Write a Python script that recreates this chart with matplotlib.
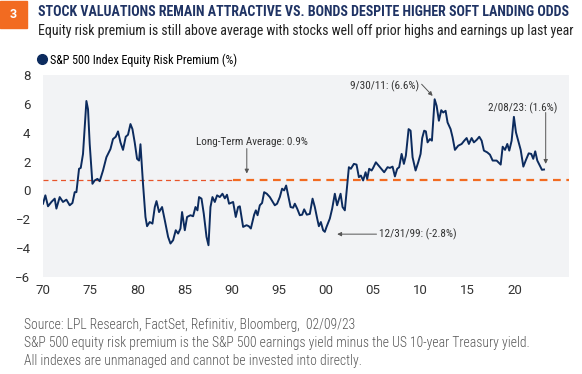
import matplotlib.pyplot as plt
from matplotlib.lines import Line2D
from matplotlib.patches import Rectangle

# S&P 500 equity risk premium (%)
years = [1970.00, 1970.25, 1970.53, 1970.89, 1971.24, 1971.42, 1971.77, 1972.12, 1972.48, 1972.83,
         1973.12, 1973.36, 1973.54, 1973.82, 1974.00, 1974.24, 1974.60, 1974.77, 1974.95, 1975.24,
         1975.48, 1975.77, 1976.01, 1976.36, 1976.72, 1977.15, 1977.42, 1977.71, 1977.95, 1978.21,
         1978.48, 1978.77, 1979.01, 1979.27, 1979.48, 1979.72, 1979.97, 1980.18, 1980.33, 1980.60,
         1980.86, 1981.03, 1981.31, 1981.60, 1981.85, 1982.03, 1982.30, 1982.62, 1982.91, 1983.26,
         1983.51, 1983.79, 1984.07, 1984.32, 1984.57, 1984.74, 1985.03, 1985.27, 1985.63, 1985.91,
         1986.16, 1986.37, 1986.54, 1986.80, 1987.04, 1987.33, 1987.54, 1987.75, 1987.96, 1988.21,
         1988.45, 1988.74, 1989.02, 1989.27, 1989.50, 1989.72, 1990.15, 1990.43, 1990.68, 1990.86,
         1991.21, 1991.57, 1991.81, 1992.03, 1992.38, 1992.56, 1992.74, 1992.98, 1993.22, 1993.44,
         1993.72, 1994.04, 1994.57, 1994.81, 1995.10, 1995.34, 1995.56, 1995.77, 1995.98, 1996.24,
         1996.51, 1996.69, 1996.94, 1997.22, 1997.47, 1997.68, 1997.96, 1998.28, 1998.57, 1998.81,
         1999.06, 1999.24, 1999.45, 1999.69, 1999.87, 2000.05, 2000.40, 2000.65, 2000.93, 2001.17,
         2001.54, 2001.75, 2001.99, 2002.42, 2002.63, 2002.95, 2003.23, 2003.48, 2003.69, 2003.93,
         2004.19, 2004.36, 2004.57, 2004.83, 2004.99, 2005.28, 2005.71, 2006.16, 2006.52, 2006.77,
         2007.05, 2007.30, 2007.54, 2007.75, 2008.01, 2008.25, 2008.46, 2008.75, 2008.96, 2009.17,
         2009.49, 2009.77, 2010.02, 2010.19, 2010.40, 2010.58, 2010.76, 2011.01, 2011.22, 2011.51,
         2011.72, 2011.96, 2012.21, 2012.42, 2012.67, 2012.88, 2013.20, 2013.41, 2013.66, 2014.01,
         2014.37, 2014.65, 2014.90, 2015.14, 2015.43, 2015.67, 2015.96, 2016.24, 2016.49, 2016.73,
         2017.08, 2017.37, 2017.66, 2018.08, 2018.51, 2018.72, 2018.97, 2019.21, 2019.42, 2019.67,
         2019.91, 2020.13, 2020.37, 2020.63, 2020.91, 2021.19, 2021.48, 2021.75, 2021.96, 2022.17,
         2022.39, 2022.88, 2023.10]
erp = [-0.92, -0.34, -1.10, -0.80, -0.57, -1.26, -0.46, -0.80, -0.64, -1.03,
       -0.87, -0.12, -0.12, 1.50, 1.56, 2.53, 6.20, 5.63, 3.22, 0.46,
       0.69, 0.80, 0.64, 1.38, 2.30, 2.87, 3.56, 3.72, 4.09, 3.33,
       2.81, 3.72, 3.86, 4.60, 4.25, 3.33, 2.19, 2.07, 3.20, 0.46,
       -1.84, -2.48, -2.19, -2.30, -1.15, -0.74, -1.50, -1.15, -2.07, -3.22,
       -3.68, -3.45, -2.76, -2.99, -2.64, -1.50, -2.76, -1.84, -1.72, -1.79,
       -1.15, -1.38, -0.46, -0.57, -1.61, -3.22, -3.80, -1.15, -0.46, -0.80,
       -0.34, -0.46, -0.23, -0.55, -0.30, -0.92, -0.80, -1.84, -1.15, -1.10,
       -2.53, -2.41, -2.48, -2.64, -1.68, -1.38, -1.72, -1.03, -0.87, -0.12,
       -0.23, -0.46, -1.03, -0.92, -0.46, 0.12, 0.00, 0.34, -0.34, -1.15,
       -1.20, -0.92, -1.26, -1.72, -1.68, -1.31, -1.68, -1.63, -0.57, -1.15,
       -1.95, -2.48, -2.19, -2.76, -2.87, -2.53, -1.95, -1.26, -0.23, -1.03,
       -0.23, -1.15, -1.38, 1.61, 1.50, 1.84, 1.79, 0.92, 1.03, 0.69,
       1.26, 0.80, 1.50, 1.38, 1.56, 1.95, 1.61, 1.26, 1.61, 1.56,
       1.65, 0.97, 1.50, 1.61, 2.53, 1.84, 2.41, 4.25, 4.14, 2.30,
       1.38, 1.95, 2.53, 3.63, 4.14, 4.09, 3.33, 3.56, 3.45, 6.32,
       5.86, 4.83, 5.56, 5.40, 5.52, 4.71, 4.25, 3.68, 2.81, 3.10,
       3.22, 3.45, 3.63, 3.22, 3.63, 3.33, 3.50, 3.72, 3.45, 2.76,
       2.64, 2.48, 2.07, 2.07, 1.79, 3.03, 2.81, 3.22, 2.76, 3.45,
       5.10, 4.02, 3.45, 2.81, 1.65, 2.12, 2.57, 2.53, 2.19, 2.71,
       2.07, 1.43, 1.45]

avg_value = 0.7
avg_split = 1990.1
x_ticks = [1970, 1975, 1980, 1985, 1990, 1995, 2000, 2005, 2010, 2015, 2020]
x_labels = ['70', '75', '80', '85', '90', '95', '00', '05', '10', '15', '20']
y_ticks = [-6, -4, -2, 0, 2, 4, 6, 8]

NAVY = '#0c2b5e'
ORANGE = '#f26b21'
NARROW = ['Roboto Condensed', 'Liberation Sans']

plt.rcParams['font.family'] = ['Roboto', 'Liberation Sans', 'DejaVu Sans']

W, H = 582, 374
fig = plt.figure(figsize=(W / 100, H / 100), dpi=100)


def fx(px):
    return px / W


def fy(py):
    return 1 - py / H


# header
fig.patches.append(Rectangle((fx(0), fy(28)), fx(27), 27 / H, transform=fig.transFigure,
                             color=ORANGE, zorder=1))
fig.text(fx(13.5), fy(14.5), '3', color='white', fontsize=9, weight='bold',
         ha='center', va='center')
fig.text(fx(38), fy(12), 'STOCK VALUATIONS REMAIN ATTRACTIVE VS. BONDS DESPITE HIGHER SOFT LANDING ODDS',
         family=NARROW, fontsize=10.1, weight='bold', color='#1f3364', va='center')
fig.text(fx(38), fy(31), 'Equity risk premium is still above average with stocks well off prior highs '
         'and earnings up last year', family=NARROW, fontsize=10, color='#222222', va='center')

ax = fig.add_axes([fx(43), fy(277), fx(569 - 43), (277 - 75) / H])
ax.set_facecolor('#f2f3f5')
for s in ax.spines.values():
    s.set_visible(False)

ax.plot(years, erp, color=NAVY, lw=1.4, zorder=3)
ax.plot([1970, avg_split], [avg_value, avg_value], ls=(0, (4, 3)), color='#e8542a', lw=0.9, zorder=2)
ax.plot([avg_split, 2025.75], [avg_value, avg_value], ls=(0, (3.5, 2.5)), color=ORANGE, lw=1.6, zorder=2)

ax.set_xlim(1970, 2025.75)
ax.set_ylim(-6, 8)
ax.set_xticks(x_ticks, x_labels)
ax.set_yticks(y_ticks)
ax.tick_params(length=0, labelsize=9.5, colors='#333333')
ax.tick_params(axis='x', pad=5)
ax.tick_params(axis='y', pad=9)

arrow = dict(arrowstyle='-|>', color='#555555', lw=0.7, mutation_scale=6, shrinkA=0, shrinkB=0)
ann_font = dict(family=NARROW, fontsize=8, color='#333333')
ax.annotate('', xy=(1991.6, 1.17), xytext=(1991.6, 2.9), arrowprops=arrow)
ax.text(1992.1, 3.33, 'Long-Term Average: 0.9%', ha='center', va='center', **ann_font)
ax.annotate('', xy=(2011.3, 6.55), xytext=(2010.13, 7.36), arrowprops=arrow)
ax.text(2009.85, 7.19, '9/30/11: (6.6%)', ha='right', va='center', **ann_font)
ax.annotate('', xy=(2023.28, 1.84), xytext=(2023.28, 5.4), arrowprops=arrow)
ax.text(2020.8, 5.72, '2/08/23: (1.6%)', ha='center', va='center', **ann_font)
ax.annotate('', xy=(2001.18, -3.03), xytext=(2005.35, -3.03), arrowprops=arrow)
ax.text(2005.6, -3.03, '12/31/99: (-2.8%)', ha='left', va='center', **ann_font)

handle = Line2D([], [], marker='o', ls='', color=NAVY, markersize=7)
fig.legend([handle], ['S&P 500 Index Equity Risk Premium (%)'], loc='center left',
           bbox_to_anchor=(fx(36), fy(60)), frameon=False, handletextpad=0.2,
           handlelength=1, borderpad=0, borderaxespad=0,
           prop=dict(family=NARROW, size=8.7))

foot = dict(family=NARROW, fontsize=9.8, weight='light', color='#555555', va='center')
fig.text(fx(24), fy(325), 'Source: LPL Research, FactSet, Refinitiv, Bloomberg,  02/09/23', **foot)
fig.text(fx(24), fy(343), 'S&P 500 equity risk premium is the S&P 500 earnings yield minus the '
         'US 10-year Treasury yield.', **foot)
fig.text(fx(24), fy(361), 'All indexes are unmanaged and cannot be invested into directly.', **foot)

fig.savefig('out.png', dpi=100)
